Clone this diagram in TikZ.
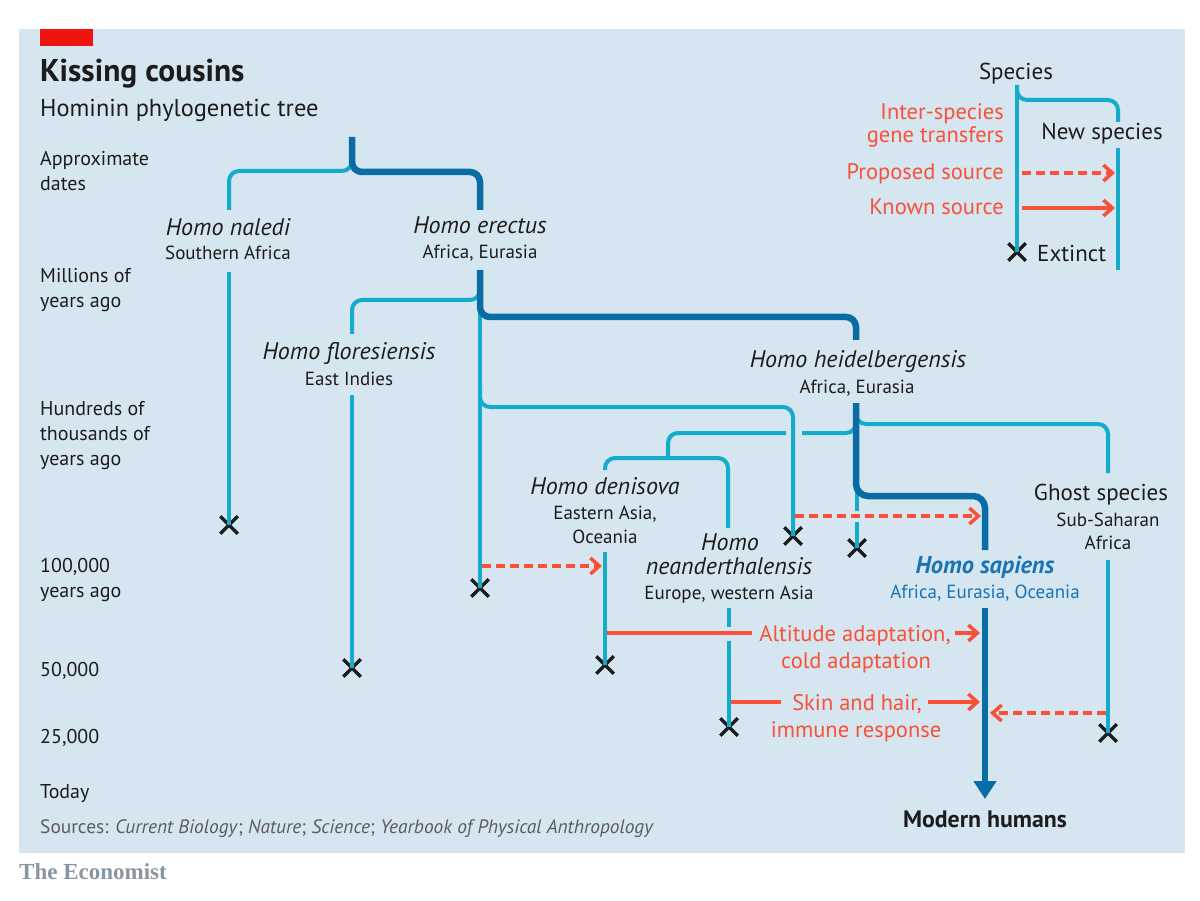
\documentclass[tikz,border=0pt]{standalone}
\usepackage{fontspec}
\setmainfont{PT Sans}
\newfontfamily\econfont{Liberation Serif}
\usetikzlibrary{arrows.meta,shapes.misc}
\definecolor{bg}{RGB}{213,230,240}
\definecolor{cyanl}{RGB}{20,172,202}
\definecolor{darkb}{RGB}{10,108,165}
\definecolor{redl}{RGB}{250,80,55}
\definecolor{redbox}{RGB}{240,20,15}
\definecolor{txt}{RGB}{28,28,30}
\definecolor{srcgrey}{RGB}{90,92,96}
\definecolor{logogrey}{RGB}{135,150,162}
\definecolor{sapblue}{RGB}{25,115,180}
\begin{document}
\begin{tikzpicture}[x=1pt,y=-1pt,
  cy/.style={draw=cyanl, line width=4pt},
  dk/.style={draw=darkb, line width=6.5pt},
  rd/.style={draw=redl, line width=3.5pt},
  rdd/.style={rd, dash pattern=on 9pt off 5pt},
  chev/.style={-{Straight Barb[length=9pt,width=16pt]}},
  xm/.style={cross out, draw=txt, line width=3.5pt, minimum size=14pt, inner sep=0pt},
  lab/.style={anchor=base, inner sep=0pt, text=txt, font=\fontsize{20}{23}\selectfont},
  axl/.style={lab, anchor=base west},
  sp/.style={lab, font=\fontsize{24}{27}\selectfont\itshape},
  rg/.style={lab, font=\fontsize{19}{22}\selectfont},
  rdt/.style={lab, text=redl, font=\fontsize{22.5}{26}\selectfont},
  big/.style={lab, font=\fontsize{23}{26}\selectfont}
]
\useasboundingbox (0,0) rectangle (1200,901);
\fill[white] (0,0) rectangle (1200,901);
\fill[bg] (19,29) rectangle (1185,853);
\fill[redbox] (40,29) rectangle (93,46);

% titles
\node[axl, font=\fontsize{31.5}{34}\selectfont\bfseries] (title) at (40,82) {Kissing cousins};
\node[axl, font=\fontsize{24.4}{28}\selectfont] (subtitle) at (40,117) {Hominin phylogenetic tree};

% axis labels
\node[axl] (a1) at (40,166) {Approximate};
\node[axl] (a2) at (40,191) {dates};
\node[axl] (m1) at (40,283) {Millions of};
\node[axl] (m2) at (40,308) {years ago};
\node[axl] (h1) at (40,415) {Hundreds of};
\node[axl] (h2) at (40,440) {thousands of};
\node[axl] (h3) at (40,465) {years ago};
\node[axl] (k1) at (40,572) {100,000};
\node[axl] (k2) at (40,597) {years ago};
\node[axl] (k3) at (40,676) {50,000};
\node[axl] (k4) at (40,743) {25,000};
\node[axl] (k5) at (40,798) {Today};
\node[axl, text=srcgrey, font=\fontsize{19.4}{22}\selectfont] (src) at (40,833) {Sources: \textit{Current Biology}; \textit{Nature}; \textit{Science}; \textit{Yearbook of Physical Anthropology}};
\node[axl, text=logogrey, font=\fontsize{23}{26}\selectfont\econfont\bfseries] (logo) at (19,879) {The Economist};

% X marks
\node[xm] (xn) at (229,525) {};
\node[xm] (xe) at (480,588) {};
\node[xm] (xf) at (352,668) {};
\node[xm] (xd) at (605,665) {};
\node[xm] (xne) at (729,727) {};
\node[xm] (xa) at (793,536) {};
\node[xm] (xb) at (857,548) {};
\node[xm] (xg) at (1108,733) {};
\node[xm] (xl) at (1017,252) {};

% root
\draw[cy, rounded corners=10pt] (352,150) -- (352,171) -- (229,171) -- (229,210);
\draw[dk, rounded corners=10pt] (352,137) -- (352,172) -- (480,172) -- (480,210);
\draw[cy] (229,272) -- (xn.center);

% erectus
\draw[cy, rounded corners=10pt] (480,280) -- (480,300) -- (352,300) -- (352,334);
\draw[cy] (480,300) -- (xe.center);
\draw[cy, rounded corners=10pt] (480,385) -- (480,407) -- (793,407) -- (xa.center);
\draw[dk, rounded corners=10pt] (480,270) -- (480,317) -- (856,317) -- (856,340);
\draw[cy] (352,395) -- (xf.center);

% heidelbergensis
\draw[cy, rounded corners=10pt] (856,410) -- (856,433) -- (802,433);
\draw[cy, rounded corners=10pt] (786,433) -- (668,433) -- (668,458);
\draw[cy, rounded corners=10pt] (605,470) -- (605,458) -- (728,458) -- (728,528);
\draw[cy, rounded corners=10pt] (856,405) -- (856,424) -- (1108,424) -- (1108,473);
\draw[cy] (857,480) -- (857,511);
\draw[cy] (857,522) -- (xb.center);
\draw[dk, rounded corners=12pt] (856,403) -- (856,496) -- (985,496) -- (985,550);
\draw[dk, -{Triangle[length=18pt,width=22pt]}] (985,608) -- (985,799);

% lower lineages
\draw[cy] (605,552) -- (xd.center);
\draw[cy] (729,608) -- (729,627);
\draw[cy] (729,641) -- (xne.center);
\draw[cy] (1108,560) -- (xg.center);

% gene transfers
\draw[rdd, chev] (482,566) -- (602,566);
\draw[rdd, chev] (795,516) -- (981,516);
\draw[rdd, chev] (1106,713) -- (990,713);
\draw[rd] (607,633) -- (752,633);
\draw[rd, chev] (955,633) -- (980,633);
\draw[rd] (731,702) -- (781,702);
\draw[rd, chev] (928,702) -- (980,702);

% species labels
\node[sp] (nal) at (228,236) {Homo naledi};
\node[rg] (nal2) at (228,260) {Southern Africa};
\node[sp] (ere) at (480,234) {Homo erectus};
\node[rg] (ere2) at (480,259) {Africa, Eurasia};
\node[sp] (flo) at (349,360) {Homo floresiensis};
\node[rg] (flo2) at (349,385) {East Indies};
\node[sp] (hei) at (858,368) {Homo heidelbergensis};
\node[rg] (hei2) at (857,394) {Africa, Eurasia};
\node[sp] (den) at (605,494) {Homo denisova};
\node[rg] (den2) at (605,519) {Eastern Asia,};
\node[rg] (den3) at (605,543) {Oceania};
\node[sp] (nea) at (730,550) {Homo};
\node[sp] (nea2) at (729,574) {neanderthalensis};
\node[rg] (nea3) at (729,599) {Europe, western Asia};
\node[big] (gho) at (1101,500) {Ghost species};
\node[rg] (gho2) at (1108,526) {Sub-Saharan};
\node[rg] (gho3) at (1108,549) {Africa};
\node[sp, text=sapblue, font=\fontsize{24.4}{27}\selectfont\bfseries\itshape] (sap) at (985,573) {Homo sapiens};
\node[rg, text=sapblue] (sap2) at (985,598) {Africa, Eurasia, Oceania};
\node[rdt] (alt) at (855,641) {Altitude adaptation,};
\node[rdt] (alt2) at (856,668) {cold adaptation};
\node[rdt] (skn) at (857,710) {Skin and hair,};
\node[rdt] (skn2) at (856,737) {immune response};
\node[big, font=\fontsize{23.8}{27}\selectfont\bfseries] (mod) at (985,827) {Modern humans};

% legend
\draw[cy, rounded corners=10pt] (1017,85) -- (1017,100) -- (1118,100) -- (1118,122);
\draw[cy] (1017,85) -- (xl.center);
\draw[cy] (1118,148) -- (1118,270);
\draw[rdd, chev] (1022,173) -- (1115,173);
\draw[rd, chev] (1022,208) -- (1115,208);
\node[big] (lsp) at (1016,80) {Species};
\node[rdt, anchor=base east] (lig) at (1004,120) {Inter-species};
\node[rdt, anchor=base east] (lig2) at (1004,143) {gene transfers};
\node[rdt, anchor=base east] (lpr) at (1004,180) {Proposed source};
\node[rdt, anchor=base east] (lkn) at (1004,215) {Known source};
\node[big] (lns) at (1102,140) {New species};
\node[big, anchor=base west] (lex) at (1037,262) {Extinct};
\end{tikzpicture}
\end{document}
